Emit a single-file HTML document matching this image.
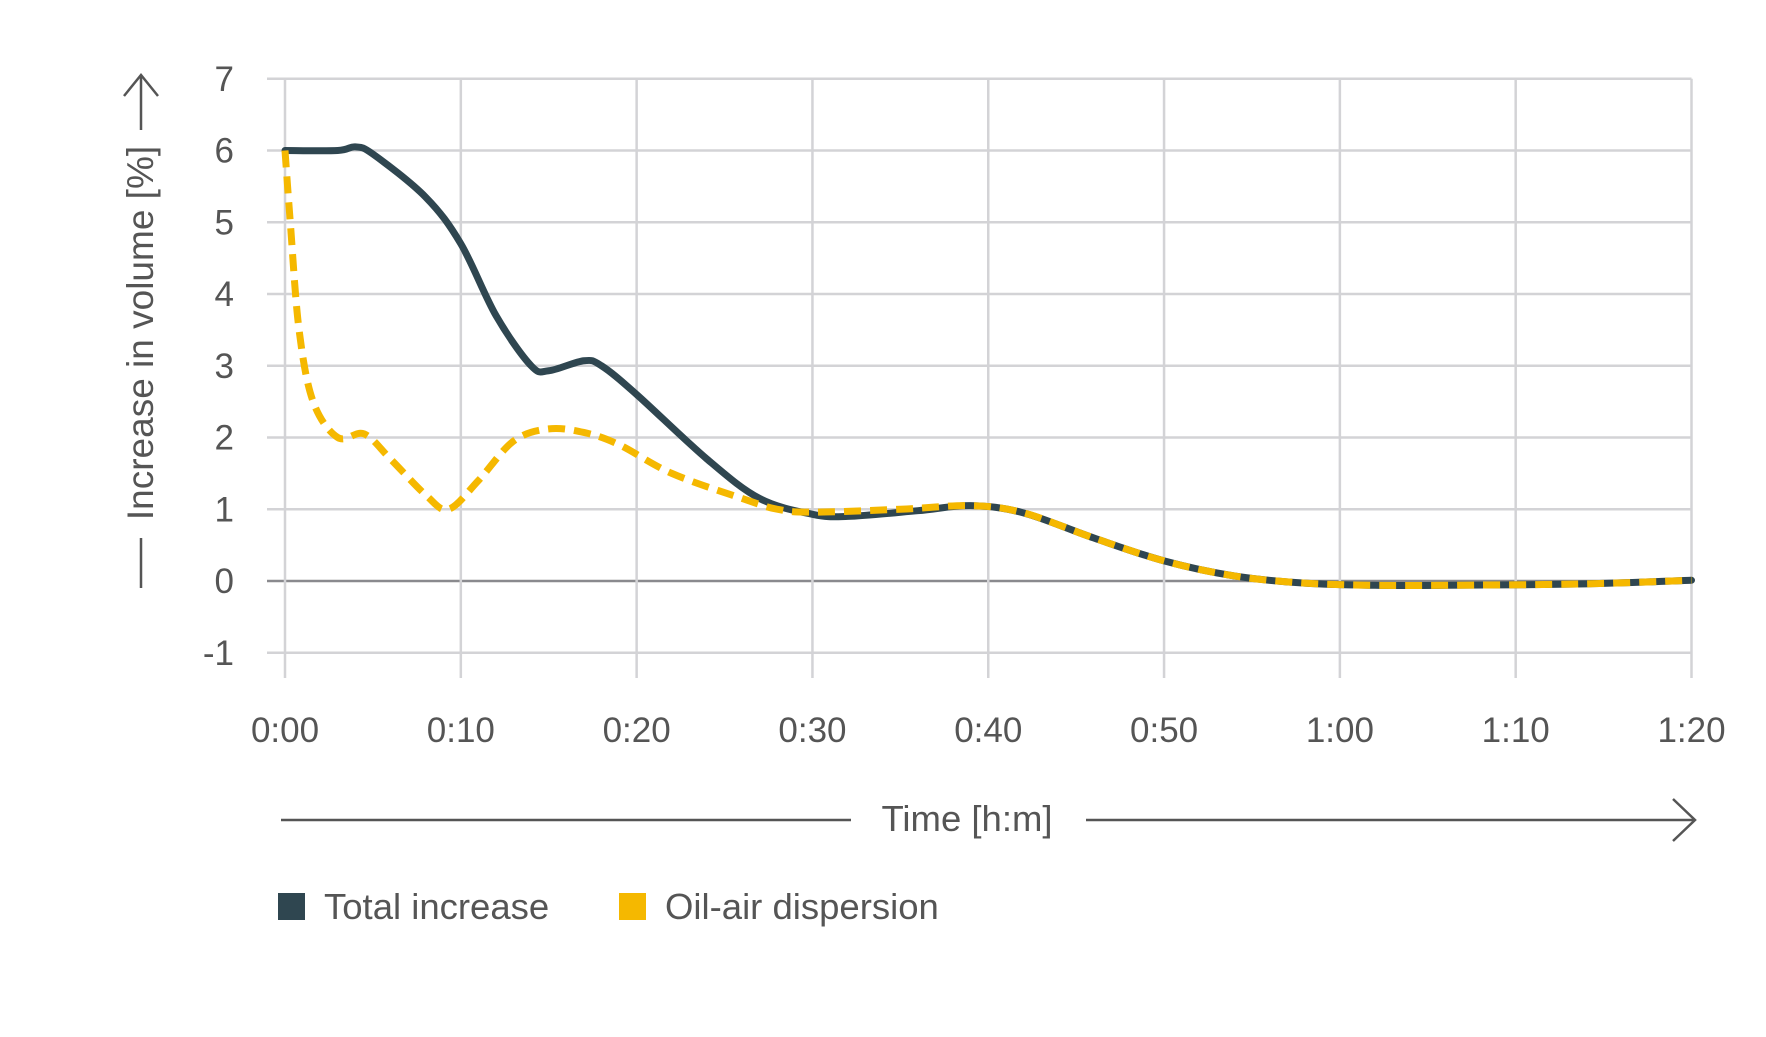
<!DOCTYPE html>
<html><head><meta charset="utf-8"><style>
html,body{margin:0;padding:0;background:#fff;}
svg{display:block;font-family:"Liberation Sans",Arial,sans-serif;}
</style></head><body>
<svg id="s" width="1766" height="1037" viewBox="0 0 1766 1037" xmlns="http://www.w3.org/2000/svg">
<g id="grid" stroke="#d3d3d6" stroke-width="2.5" fill="none"></g>
<g id="lbl" fill="#555" font-size="35"></g>
<path id="tot" fill="none" stroke="#2f4650" stroke-width="7" stroke-linejoin="round" stroke-linecap="round"/>
<path id="oil" fill="none" stroke="#f5b800" stroke-width="7" stroke-dasharray="17 9"/>
<text transform="translate(153,333) rotate(-90)" text-anchor="middle" font-size="37" fill="#555">Increase in volume [%]</text>
<line x1="141" y1="538" x2="141" y2="588" stroke="#555" stroke-width="2.5"/>
<line x1="141" y1="76" x2="141" y2="130" stroke="#555" stroke-width="2.5"/>
<polyline points="124,96 141,75 158,96" fill="none" stroke="#555" stroke-width="2.5"/>
<line x1="281" y1="820" x2="851" y2="820" stroke="#555" stroke-width="2.5"/>
<line x1="1086" y1="820" x2="1695" y2="820" stroke="#555" stroke-width="2.5"/>
<polyline points="1673,799 1695,820 1673,841" fill="none" stroke="#555" stroke-width="2.5"/>
<text x="967" y="831" text-anchor="middle" font-size="36.5" fill="#555">Time [h:m]</text>
<rect x="278" y="893" width="27" height="27" fill="#2f4650"/>
<text x="324" y="919" font-size="36.5" fill="#555">Total increase</text>
<rect x="619" y="893" width="27" height="27" fill="#f5b800"/>
<text x="665" y="919" font-size="36.5" fill="#555">Oil-air dispersion</text>
</svg>
<script>
var X0=285,X1=1691.5,Y0=581,U=71.75;
function px(m){return X0+(X1-X0)*m/80;}
function py(v){return Y0-v*U;}
var g=document.getElementById('grid'),l=document.getElementById('lbl'),ns='http://www.w3.org/2000/svg';
function el(p,t,a){var e=document.createElementNS(ns,t);for(var k in a)e.setAttribute(k,a[k]);p.appendChild(e);return e;}
for(var v=-1;v<=7;v++){
  el(g,'line',{x1:267,x2:X1,y1:py(v),y2:py(v),stroke:v==0?'#8a8a8e':'#d3d3d6'});
  var t=el(l,'text',{x:234,y:py(v)+12,'text-anchor':'end'});t.textContent=v;
}
var labs=['0:00','0:10','0:20','0:30','0:40','0:50','1:00','1:10','1:20'];
for(var i=0;i<9;i++){
  var x=px(i*10);
  el(g,'line',{x1:x,x2:x,y1:py(7),y2:678});
  var t=el(l,'text',{x:x,y:742,'text-anchor':'middle'});t.textContent=labs[i];
}
function path(pts){
  var P=pts.map(function(p){return [px(p[0]),py(p[1])];});
  var d='M'+P[0][0]+','+P[0][1];
  for(var i=0;i<P.length-1;i++){
    var p0=P[i-1]||P[i],p1=P[i],p2=P[i+1],p3=P[i+2]||P[i+1];
    var c1=[p1[0]+(p2[0]-p0[0])/6,p1[1]+(p2[1]-p0[1])/6];
    var c2=[p2[0]-(p3[0]-p1[0])/6,p2[1]-(p3[1]-p1[1])/6];
    d+=' C'+c1+' '+c2+' '+p2;
  }
  return d;
}
var tail=[[42,0.95],[46,0.6],[50,0.28],[54,0.07],[58,-0.03],[62,-0.06],[66,-0.06],[74,-0.04],[80,0.01]];
var tot=[[0,6],[3,6],[4,6.05],[5,5.95],[8,5.35],[10,4.7],[12,3.7],[14,3.0],[15,2.93],[17,3.07],[18,3.0],[20,2.6],[24,1.7],[27,1.15],[30,0.93],[32,0.9],[36,0.98],[39,1.05]].concat(tail);
var oil=[[0,6],[0.3,5],[0.8,3.5],[1.6,2.5],[3,2.0],[4.5,2.05],[6,1.7],[8,1.2],[9.3,1.0],[11,1.4],[13,1.95],[15,2.12],[17,2.07],[19,1.9],[22,1.5],[26,1.15],[28,1.0],[30,0.96],[35,1.0],[39,1.05]].concat(tail);
document.getElementById('tot').setAttribute('d',path(tot));
document.getElementById('oil').setAttribute('d',path(oil));
</script>
</body></html>
